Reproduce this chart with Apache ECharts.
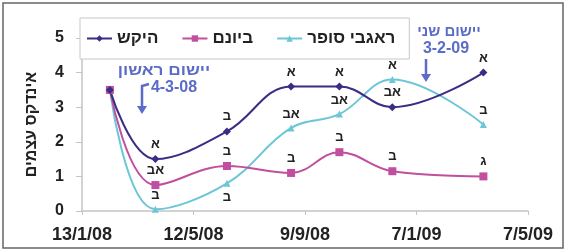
<!DOCTYPE html>
<html lang="he">
<head>
<meta charset="UTF-8">
<title>אינדקס עצמים</title>
<script src="https://cdn.jsdelivr.net/npm/echarts@6/dist/echarts.min.js"></script>
<style>
  html, body { margin: 0; padding: 0; background: #fff; }
  #chart { width: 567px; height: 251px; }
</style>
</head>
<body>
<div id="chart"></div>
<script>
// days since 13/1/08 for each sampling date
const sampleDays = [30, 79, 156, 225, 277, 334, 432];
const xTickLabels = ['13/1/08', '12/5/08', '9/9/08', '7/1/09', '7/5/09'];

const hekeshValues = [3.5, 1.5, 2.3, 3.6, 3.6, 3.0, 4.0];
const bionamValues = [3.5, 0.75, 1.3, 1.1, 1.7, 1.15, 1.0];
const rugbyValues = [3.5, 0.05, 0.8, 2.4, 2.8, 3.8, 2.5];

const hekeshLetters = ['', 'א', 'ב', 'א', 'א', 'אב', 'א'];
const bionamLetters = ['', 'אב', 'ב', 'ב', 'ב', 'ב', 'ג'];
const rugbyLetters = ['', 'ב', 'ב', 'אב', 'אב', 'א', 'ב'];
const rugbyBelow = [false, false, true, false, false, false, false];

const font = '"Liberation Sans", Arial, sans-serif';
const annColor = '#5a6cc8';

function buildData(values, letters, below) {
    return values.map((v, i) => ({
        value: [sampleDays[i], v],
        label: {
            show: letters[i] !== '',
            formatter: letters[i],
            position: below && below[i] ? 'bottom' : 'top',
            distance: 4
        }
    }));
}

const letterLabel = {
    color: '#222', fontSize: 13, fontWeight: 'bold', fontFamily: font
};

const chart = echarts.init(document.getElementById('chart'));
chart.setOption({
    animation: false,
    textStyle: { fontFamily: font },
    grid: { left: 82, right: 39, top: 38, bottom: 40 },
    legend: {
        left: 80, top: 18,
        padding: [12, 14, 12, 6],
        backgroundColor: '#fff',
        borderColor: '#c8c8c8', borderWidth: 1,
        itemWidth: 25, itemHeight: 8, itemGap: 23,
        textStyle: { color: '#222', fontSize: 17, fontWeight: 'bold', fontFamily: font },
        data: ['היקש', 'ביונם', 'ראגבי סופר']
    },
    xAxis: {
        type: 'value', min: 0, max: 480, interval: 120,
        axisLine: { show: true, lineStyle: { color: '#c4c4c4', width: 1.5 } },
        axisTick: { show: true, length: 4, lineStyle: { color: '#c4c4c4' } },
        splitLine: { show: false },
        axisLabel: {
            margin: 15, color: '#222', fontSize: 18, fontWeight: 'bold', fontFamily: font,
            formatter: v => xTickLabels[Math.round(v / 120)]
        }
    },
    yAxis: {
        type: 'value', min: 0, max: 5, interval: 1,
        name: 'אינדקס עצמים', nameLocation: 'middle', nameGap: 42, nameRotate: 90,
        nameTextStyle: { color: '#222', fontSize: 16, fontWeight: 'bold', fontFamily: font },
        axisLine: { show: true, lineStyle: { color: '#c4c4c4', width: 1.5 } },
        axisTick: { show: true, length: 6, lineStyle: { color: '#c4c4c4' } },
        splitLine: { show: false },
        axisLabel: { margin: 18, color: '#222', fontSize: 16, fontWeight: 'bold', fontFamily: font }
    },
    series: [
        {
            name: 'ראגבי סופר', type: 'line', smooth: 0.4,
            symbol: 'triangle', symbolSize: 7,
            color: '#6cc6d6', lineStyle: { width: 2 },
            label: letterLabel,
            data: buildData(rugbyValues, rugbyLetters, rugbyBelow)
        },
        {
            name: 'ביונם', type: 'line', smooth: 0.4,
            symbol: 'rect', symbolSize: 8,
            color: '#c14f9f', lineStyle: { width: 2 },
            label: letterLabel,
            data: buildData(bionamValues, bionamLetters)
        },
        {
            name: 'היקש', type: 'line', smooth: 0.4,
            symbol: 'diamond', symbolSize: 8,
            color: '#3a2d86', lineStyle: { width: 2 },
            label: letterLabel,
            data: buildData(hekeshValues, hekeshLetters)
        }
    ],
    graphic: [
        { type: 'rect', z: 100, shape: { x: 3, y: 3, width: 560, height: 245 }, style: { fill: 'none', stroke: '#666', lineWidth: 1.5 }, silent: true },
        { type: 'text', z: 100, x: 164, y: 71, scaleX: 1.15, style: { text: 'יישום ראשון', fill: annColor, font: 'bold 15px ' + font, align: 'center', verticalAlign: 'middle' } },
        { type: 'text', z: 100, x: 174, y: 88, style: { text: '4-3-08', fill: annColor, font: 'bold 16px ' + font, align: 'center', verticalAlign: 'middle' } },
        { type: 'polyline', z: 100, shape: { points: [[149, 84], [142, 86], [142, 108]] }, style: { stroke: annColor, lineWidth: 2.5, fill: 'none' } },
        { type: 'polygon', z: 100, shape: { points: [[137, 106], [147, 106], [142, 114]] }, style: { fill: annColor } },
        { type: 'text', z: 100, x: 449, y: 32, style: { text: 'יישום שני', fill: annColor, font: 'bold 15px ' + font, align: 'center', verticalAlign: 'middle' } },
        { type: 'text', z: 100, x: 446, y: 49, style: { text: '3-2-09', fill: annColor, font: 'bold 16px ' + font, align: 'center', verticalAlign: 'middle' } },
        { type: 'line', z: 100, shape: { x1: 426, y1: 59, x2: 426, y2: 76 }, style: { stroke: annColor, lineWidth: 2.5 } },
        { type: 'polygon', z: 100, shape: { points: [[421, 74], [431, 74], [426, 82]] }, style: { fill: annColor } }
    ]
});
</script>
</body>
</html>
